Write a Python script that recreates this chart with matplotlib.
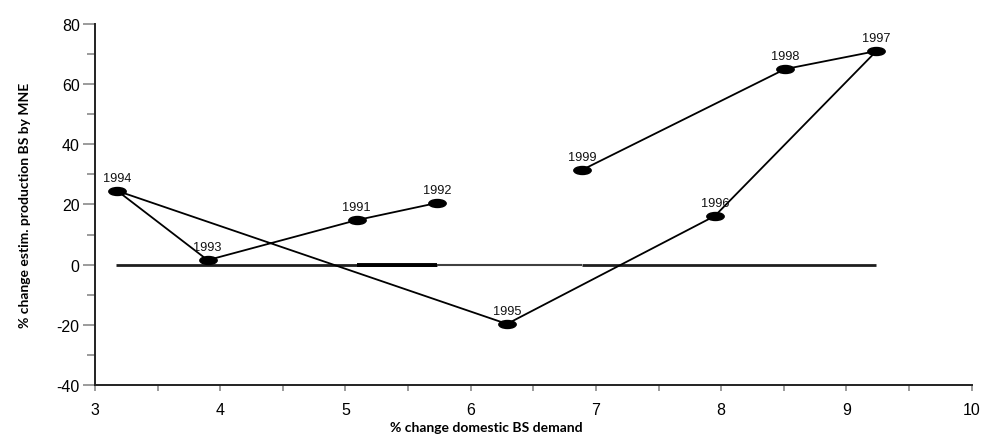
import matplotlib
matplotlib.use("Agg")
import matplotlib.pyplot as plt
from matplotlib.path import Path
from matplotlib.transforms import Affine2D
from matplotlib.ticker import MultipleLocator

# path order: 1992 -> 1991 -> 1993 -> 1994 -> ... -> 1999
years  = ["1992", "1991", "1993", "1994", "1995", "1996", "1997", "1998", "1999"]
demand = [5.73, 5.09, 3.90, 3.18, 6.29, 7.95, 9.24, 8.51, 6.89]
prod   = [20.5, 14.8, 1.5, 24.5, -19.7, 16.2, 71.0, 65.0, 31.5]

# zero reference line pieces (x start, x end)
zero_span = (3.17, 9.24)
zero_thick = [(5.09, 5.73)]
zero_thin = [(5.73, 6.89)]

# flat ellipse marker
ellipse = Path.unit_circle().transformed(Affine2D().scale(1.0, 0.46))

plt.rcParams["font.family"] = ["Liberation Sans", "DejaVu Sans"]
plt.rcParams["axes.unicode_minus"] = False

fig = plt.figure(figsize=(9.85, 4.35), dpi=100)
ax = fig.add_axes([0.0964, 0.1126, 0.890, 0.830])

ax.plot(zero_span, [0, 0], color="#1e1e1e", lw=2.0, solid_capstyle="butt", zorder=1)
for x0, x1 in zero_thin:
    ax.plot([x0, x1], [0, 0], color="white", lw=2.2, solid_capstyle="butt", zorder=1)
    ax.plot([x0, x1], [0, 0], color="#404040", lw=1.5, solid_capstyle="butt", zorder=1)
for x0, x1 in zero_thick:
    ax.plot([x0, x1], [0, 0], color="black", lw=2.8, solid_capstyle="butt", zorder=1)

ax.plot(demand, prod, color="black", lw=1.3, marker=ellipse, ms=12.5,
        mfc="black", mec="black", zorder=3)
for yr, x, y in zip(years, demand, prod):
    ax.annotate(yr, (x, y), xytext=(0, 5), textcoords="offset points",
                ha="center", va="bottom", fontsize=9.2, color="#111111")

ax.set_xlim(3, 10)
ax.set_ylim(-40, 80)
ax.xaxis.set_major_locator(MultipleLocator(1))
ax.xaxis.set_minor_locator(MultipleLocator(0.5))
ax.yaxis.set_major_locator(MultipleLocator(20))
ax.yaxis.set_minor_locator(MultipleLocator(10))

for s in ["top", "right"]:
    ax.spines[s].set_visible(False)
for s in ["left", "bottom"]:
    ax.spines[s].set_color("#222222")
    ax.spines[s].set_linewidth(1.4)

ax.tick_params(axis="y", which="major", direction="out", length=9, width=1.2,
               color="#8a8a8a", labelsize=11.5, pad=2)
ax.tick_params(axis="y", which="minor", direction="out", length=6, width=1.2,
               color="#8a8a8a")
ax.tick_params(axis="x", which="both", direction="out", length=4, width=1.2,
               color="#8a8a8a", labelsize=11.5, pad=8)

ax.set_ylabel("% change estim. production BS by MNE", fontsize=10,
              fontweight="bold", family=["Lato", "DejaVu Sans"], labelpad=18)
fig.text(0.494, 0.002, "% change domestic BS demand", fontsize=10,
         fontweight="bold", family=["Lato", "DejaVu Sans"], ha="center", va="bottom")

fig.savefig("out.png", dpi=100, facecolor="white")
